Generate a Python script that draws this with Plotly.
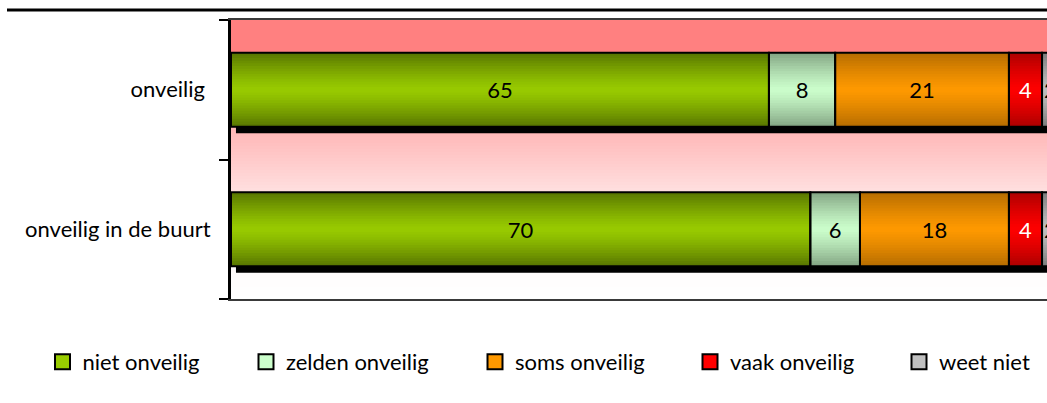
import plotly.graph_objects as go

# ---------------- data ----------------
categories = ["onveilig", "onveilig in de buurt"]
category_labels = ["onveilig\u00a0", "onveilig in de buurt"]
series_names = ["niet onveilig", "zelden onveilig", "soms onveilig", "vaak onveilig", "weet niet"]
niet_onveilig = [65, 70]
zelden_onveilig = [8, 6]
soms_onveilig = [21, 18]
vaak_onveilig = [4, 4]
weet_niet = [2, 2]
series_values = [niet_onveilig, zelden_onveilig, soms_onveilig, vaak_onveilig, weet_niet]

# ---------------- style ----------------
FONT = "Lato, Carlito, sans-serif"
FS = 22
bright = ["#99CC00", "#CCFFCC", "#FF9900", "#FF0000", "#C0C0C0"]
dark = ["#5A7800", "#86A886", "#B86E00", "#B00000", "#7E7E7E"]
text_colors = ["black", "black", "black", "white", "black"]
BAR_W = 0.53
N_LAYERS = 14

W, H = 1047, 403
ML, MR, MT, MB = 231, 0, 20, 104
PLOT_H = H - MT - MB


def hex2rgb(h):
    h = h.lstrip("#")
    return tuple(int(h[i:i + 2], 16) for i in (0, 2, 4))


def mix(c1, c2, t):
    a, b = hex2rgb(c1), hex2rgb(c2)
    return "rgb(%d,%d,%d)" % tuple(round(a[i] + (b[i] - a[i]) * t) for i in range(3))


fig = go.Figure()

# cumulative bases
bases = []
run = [0] * len(categories)
for vals in series_values:
    bases.append(list(run))
    run = [r + v for r, v in zip(run, vals)]
totals = run

# shadow
fig.add_trace(go.Bar(
    y=categories, x=totals, base=[0.6] * len(categories), orientation="h",
    width=BAR_W, offset=-BAR_W / 2 + 0.047,
    marker=dict(color="black", line=dict(width=0)),
    showlegend=False, hoverinfo="skip"))

legend_ids = ["legend", "legend2", "legend3", "legend4", "legend5"]

for s, (name, vals) in enumerate(zip(series_names, series_values)):
    # gradient layers: dark at the edges, bright in the middle
    for k in range(N_LAYERS):
        frac = 1 - k / N_LAYERS
        t = frac ** 1.3
        fig.add_trace(go.Bar(
            y=categories, x=vals, base=bases[s], orientation="h",
            width=BAR_W * frac,
            marker=dict(color=mix(bright[s], dark[s], t), line=dict(width=0)),
            showlegend=False, hoverinfo="skip"))

# outlines + labels
for s, (name, vals) in enumerate(zip(series_names, series_values)):
    fig.add_trace(go.Bar(
        y=categories, x=vals, base=bases[s], orientation="h", width=BAR_W,
        marker=dict(color="rgba(0,0,0,0)", line=dict(color="black", width=2)),
        text=[str(v) for v in vals], textposition="inside",
        insidetextanchor="middle", textangle=0,
        textfont=dict(family=FONT, size=FS, color=text_colors[s]),
        showlegend=False, hoverinfo="skip"))

# legend entries (square swatches)
for s, name in enumerate(series_names):
    fig.add_trace(go.Scatter(
        x=[None], y=[None], mode="markers", name=name, legend=legend_ids[s],
        marker=dict(symbol="square", size=15, color=bright[s],
                    line=dict(color="black", width=2)),
        showlegend=True, hoverinfo="skip"))

# background gradient of the plot area (pixel stops -> paper coords)
stops = [(20, 128), (53, 128), (133, 184), (193, 224), (273, 252), (299, 255)]


def gb_at(py):
    for (y0, c0), (y1, c1) in zip(stops[:-1], stops[1:]):
        if y0 <= py <= y1:
            return c0 + (c1 - c0) * (py - y0) / (y1 - y0)
    return 255


shapes = []
step = 3
py = 20
while py < 299:
    py2 = min(py + step, 299)
    g = round(gb_at((py + py2) / 2))
    shapes.append(dict(
        type="rect", xref="paper", yref="paper", x0=0, x1=1,
        y0=(H - MB - py2) / PLOT_H, y1=(H - MB - py) / PLOT_H,
        fillcolor="rgb(255,%d,%d)" % (g, g), line=dict(width=0), layer="below"))
    py = py2

# rule line above the chart
shapes.append(dict(type="line", xref="paper", yref="paper",
                   x0=(7 - ML) / (W - ML), x1=1.0,
                   y0=(H - MB - 10) / PLOT_H, y1=(H - MB - 10) / PLOT_H,
                   line=dict(color="black", width=3)))

legend_cx = [62.5, 266, 495, 710, 919]
legends = {}
for lid, cx in zip(legend_ids, legend_cx):
    legends[lid] = dict(
        x=(cx - 20) / W, xref="container", xanchor="left",
        y=(H - 362) / H, yref="container", yanchor="middle",
        orientation="h", bgcolor="rgba(0,0,0,0)", borderwidth=0,
        font=dict(family=FONT, size=FS, color="black"), itemwidth=30,
        itemclick=False, itemdoubleclick=False)

fig.update_layout(
    width=W, height=H,
    margin=dict(l=ML, r=MR, t=MT, b=MB, pad=0),
    barmode="overlay",
    uniformtext=dict(mode="show", minsize=FS),
    paper_bgcolor="white", plot_bgcolor="white",
    font=dict(family=FONT, size=FS, color="black"),
    shapes=shapes,
    xaxis=dict(range=[0, 98.6], showgrid=False, zeroline=False,
               showticklabels=False, ticks="", showline=True, mirror=True,
               linecolor="#3a3a3a", linewidth=2, fixedrange=True),
    yaxis=dict(categoryorder="array", categoryarray=categories,
               tickmode="array", tickvals=categories, ticktext=category_labels,
               range=[1.5, -0.5], showgrid=False, zeroline=False,
               showline=True, linecolor="black", linewidth=3,
               ticks="outside", tickson="boundaries", ticklen=9,
               tickwidth=2, tickcolor="black", ticklabelstandoff=13,
               tickfont=dict(family=FONT, size=FS, color="black"),
               fixedrange=True),
    **legends,
)

fig.write_html("out.html", config={"displayModeBar": False},
               post_script="document.body.style.margin='0';document.body.style.overflow='hidden';")
